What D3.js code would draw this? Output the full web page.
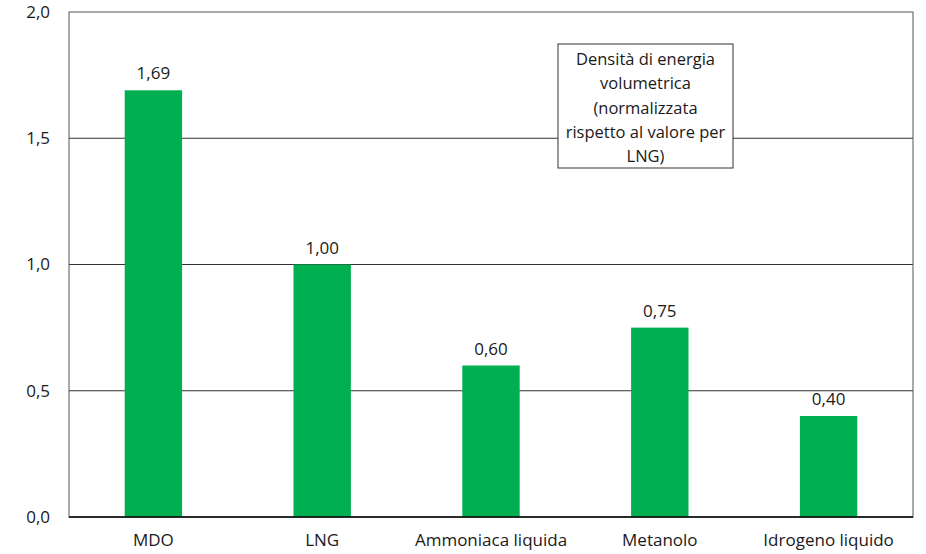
<!DOCTYPE html>
<html>
<head>
<meta charset="utf-8">
<script src="https://cdn.jsdelivr.net/npm/d3@7"></script>
<style>
  body { margin: 0; background: #fff; }
  text { font-family: "Open Sans", sans-serif; fill: #1a1a1a; }
</style>
</head>
<body>
<div id="chart"></div>
<script>
const categories = ["MDO", "LNG", "Ammoniaca liquida", "Metanolo", "Idrogeno liquido"];
const values = [1.69, 1.00, 0.60, 0.75, 0.40];
const yTicks = [0, 0.5, 1.0, 1.5, 2.0];
const noteLines = ["Densità di energia", "volumetrica", "(normalizzata", "rispetto al valore per", "LNG)"];

const width = 926, height = 554;
const margin = { top: 12, right: 13, bottom: 37, left: 69 };

const fmt = v => d3.format(".1f")(v).replace(".", ",");
const fmt2 = v => d3.format(".2f")(v).replace(".", ",");

const svg = d3.select("#chart")
  .append("svg")
  .attr("width", width)
  .attr("height", height);

const x = d3.scaleBand()
  .domain(categories)
  .range([margin.left, width - margin.right])
  .paddingInner(0.66)
  .paddingOuter(0.33);

const y = d3.scaleLinear()
  .domain([0, 2])
  .range([height - margin.bottom, margin.top]);

// gridlines
svg.append("g")
  .selectAll("line")
  .data(yTicks.filter(d => d > 0 && d < 2))
  .join("line")
  .attr("x1", margin.left)
  .attr("x2", width - margin.right)
  .attr("y1", d => y(d))
  .attr("y2", d => y(d))
  .attr("stroke", "#333")
  .attr("stroke-width", 1);

// plot border
svg.append("rect")
  .attr("x", margin.left)
  .attr("y", margin.top)
  .attr("width", width - margin.left - margin.right)
  .attr("height", height - margin.top - margin.bottom)
  .attr("fill", "none")
  .attr("stroke", "#555");

// bars
svg.append("g")
  .selectAll("rect")
  .data(values)
  .join("rect")
  .attr("x", (d, i) => x(categories[i]))
  .attr("y", d => y(d))
  .attr("width", x.bandwidth())
  .attr("height", d => y(0) - y(d))
  .attr("fill", "#00b050");

// value labels
svg.append("g")
  .selectAll("text")
  .data(values)
  .join("text")
  .attr("x", (d, i) => x(categories[i]) + x.bandwidth() / 2)
  .attr("y", d => y(d) - 11)
  .attr("text-anchor", "middle")
  .attr("font-size", 17)
  .text(d => fmt2(d));

// baseline
svg.append("line")
  .attr("x1", margin.left)
  .attr("x2", width - margin.right)
  .attr("y1", y(0))
  .attr("y2", y(0))
  .attr("stroke", "#000")
  .attr("stroke-width", 1.5);

// y axis
const yAxis = svg.append("g")
  .attr("transform", `translate(${margin.left},0)`)
  .call(d3.axisLeft(y).tickValues(yTicks).tickFormat(fmt).tickSize(0).tickPadding(19));
yAxis.select(".domain").remove();
yAxis.selectAll("text").attr("font-size", 17).attr("fill", "#1a1a1a").attr("font-family", "Open Sans, sans-serif");

// x axis
const xAxis = svg.append("g")
  .attr("transform", `translate(0,${y(0)})`)
  .call(d3.axisBottom(x).tickSize(0).tickPadding(17));
xAxis.select(".domain").remove();
xAxis.selectAll("text").attr("font-size", 17).attr("fill", "#1a1a1a").attr("font-family", "Open Sans, sans-serif");

// note box
const note = svg.append("g");
note.append("rect")
  .attr("x", 558)
  .attr("y", 44)
  .attr("width", 175)
  .attr("height", 124)
  .attr("fill", "#fff")
  .attr("stroke", "#333");
note.selectAll("text")
  .data(noteLines)
  .join("text")
  .attr("x", 645.5)
  .attr("y", (d, i) => 65 + i * 24.3)
  .attr("text-anchor", "middle")
  .attr("font-size", 16.5)
  .text(d => d);
</script>
</body>
</html>
